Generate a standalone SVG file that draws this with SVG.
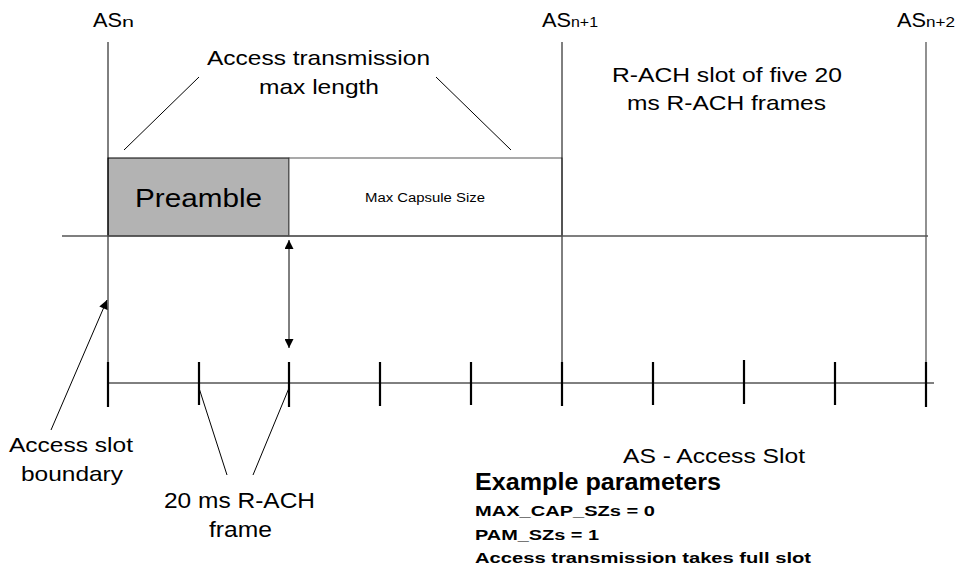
<svg xmlns="http://www.w3.org/2000/svg" width="958" height="576" viewBox="0 0 958 576">
<style>
text{font-family:"Liberation Sans",Arial,sans-serif;fill:#000}
.ln{stroke:#000;stroke-width:1;fill:none}
.gr{stroke:#555;stroke-width:1.3;fill:none}
.tk{stroke:#000;stroke-width:2.2}
.b{font-weight:bold}
</style>
<defs>
<marker id="ah" viewBox="0 0 10 10" refX="10" refY="5" markerWidth="10" markerHeight="9" markerUnits="userSpaceOnUse" orient="auto-start-reverse">
<path d="M0,0 L10,5 L0,10 z" fill="#000"/>
</marker>
<marker id="ah2" viewBox="0 0 10 10" refX="10" refY="5" markerWidth="11" markerHeight="9" markerUnits="userSpaceOnUse" orient="auto-start-reverse">
<path d="M0,0 L10,5 L0,10 z" fill="#000"/>
</marker>
</defs>
<rect width="958" height="576" fill="#fff"/>

<g id="slot-rects">
<rect x="108" y="158" width="181" height="78" fill="#b3b3b3" stroke="#000" stroke-width="1"/>
<rect x="289" y="158" width="273" height="78" fill="#fff" stroke="#555" stroke-width="1"/>
<text x="135" y="207" font-size="25" textLength="127" lengthAdjust="spacingAndGlyphs">Preamble</text>
<text x="365" y="202" font-size="12.5" textLength="120" lengthAdjust="spacingAndGlyphs">Max Capsule Size</text>
</g>

<g id="boundaries">
<line class="ln" x1="108" y1="42" x2="108" y2="383"/>
<line class="ln" x1="562" y1="42" x2="562" y2="383"/>
<line class="gr" x1="926" y1="42" x2="926" y2="383"/>
<line class="gr" x1="62" y1="236" x2="928" y2="236"/>
</g>

<g id="labels-as">
<text x="93" y="27" font-size="21" textLength="29" lengthAdjust="spacingAndGlyphs">AS</text>
<text x="122" y="27" font-size="14" textLength="12" lengthAdjust="spacingAndGlyphs">n</text>
<text x="542" y="27" font-size="21" textLength="29" lengthAdjust="spacingAndGlyphs">AS</text>
<text x="571" y="27" font-size="14" textLength="27" lengthAdjust="spacingAndGlyphs">n+1</text>
<text x="897" y="27" font-size="21" textLength="29" lengthAdjust="spacingAndGlyphs">AS</text>
<text x="926" y="27" font-size="14" textLength="29" lengthAdjust="spacingAndGlyphs">n+2</text>
</g>

<g id="timeline">
<line class="ln" x1="108" y1="383" x2="934" y2="383"/>
<line class="tk" x1="108" y1="362" x2="108" y2="407"/>
<line class="tk" x1="199" y1="362" x2="199" y2="405"/>
<line class="tk" x1="289" y1="362" x2="289" y2="407"/>
<line class="tk" x1="380" y1="362" x2="380" y2="406"/>
<line class="tk" x1="471" y1="362" x2="471" y2="405"/>
<line class="tk" x1="562" y1="362" x2="562" y2="406"/>
<line class="tk" x1="653" y1="362" x2="653" y2="405"/>
<line class="tk" x1="744" y1="360" x2="744" y2="404"/>
<line class="tk" x1="835" y1="362" x2="835" y2="405"/>
<line class="tk" x1="926" y1="362" x2="926" y2="407"/>
</g>

<g id="connectors">
<line class="ln" x1="124" y1="150" x2="199" y2="77"/>
<line class="ln" x1="436" y1="77" x2="511" y2="150"/>
<line class="ln" x1="289" y1="240" x2="289" y2="348" marker-start="url(#ah2)" marker-end="url(#ah2)"/>
<line class="ln" x1="51" y1="430" x2="107" y2="300" marker-end="url(#ah)"/>
<line class="ln" x1="227" y1="475" x2="199" y2="388"/>
<line class="ln" x1="253" y1="475" x2="289" y2="388"/>
</g>

<g id="text-labels">
<text x="207" y="65" font-size="21" textLength="223" lengthAdjust="spacingAndGlyphs">Access transmission</text>
<text x="259" y="94" font-size="21" textLength="120" lengthAdjust="spacingAndGlyphs">max length</text>
<text x="612" y="82" font-size="21" textLength="230" lengthAdjust="spacingAndGlyphs">R-ACH slot of five 20</text>
<text x="627" y="110" font-size="21" textLength="199" lengthAdjust="spacingAndGlyphs">ms R-ACH frames</text>
<text x="9" y="452" font-size="21" textLength="124" lengthAdjust="spacingAndGlyphs">Access slot</text>
<text x="21" y="481" font-size="21" textLength="102" lengthAdjust="spacingAndGlyphs">boundary</text>
<text x="164" y="508" font-size="22" textLength="151" lengthAdjust="spacingAndGlyphs">20 ms R-ACH</text>
<text x="209" y="537" font-size="22" textLength="63" lengthAdjust="spacingAndGlyphs">frame</text>
<text x="623" y="463" font-size="21" textLength="182" lengthAdjust="spacingAndGlyphs">AS - Access Slot</text>
</g>

<g id="example-params">
<text class="b" x="475" y="490" font-size="23" textLength="246" lengthAdjust="spacingAndGlyphs">Example parameters</text>
<text class="b" x="475" y="516" font-size="14.5" textLength="180" lengthAdjust="spacingAndGlyphs">MAX_CAP_SZs = 0</text>
<text class="b" x="475" y="540" font-size="14.5" textLength="124" lengthAdjust="spacingAndGlyphs">PAM_SZs = 1</text>
<text class="b" x="475" y="563" font-size="14.5" textLength="336" lengthAdjust="spacingAndGlyphs">Access transmission takes full slot</text>
</g>
</svg>
